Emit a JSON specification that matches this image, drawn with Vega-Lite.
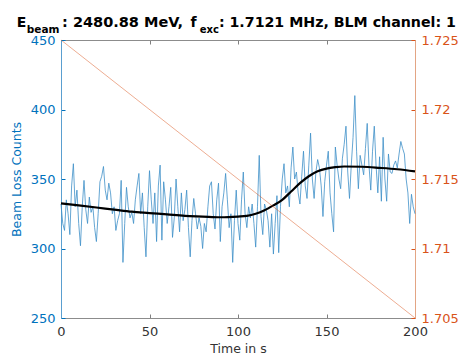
{
  "$schema": "https://vega.github.io/schema/vega-lite/v6.json",
  "width": 354,
  "height": 278,
  "autosize": {"type": "none"},
  "padding": {"left": 61, "top": 40, "right": 45, "bottom": 43},
  "background": "white",
  "config": {
    "view": {"stroke": null},
    "font": "DejaVu Sans",
    "axis": {"grid": false, "labelFont": "DejaVu Sans", "titleFont": "DejaVu Sans"}
  },
  "datasets": {
    "blm": [
      {"t":0,"counts":332},{"t":1,"counts":318},{"t":2,"counts":313},{"t":3,"counts":335},{"t":4,"counts":325},
      {"t":5,"counts":310},{"t":6,"counts":345},{"t":7,"counts":361},{"t":8,"counts":330},{"t":9,"counts":342},
      {"t":10,"counts":318},{"t":11,"counts":302},{"t":12,"counts":330},{"t":13,"counts":349},{"t":14,"counts":328},
      {"t":15,"counts":318},{"t":16,"counts":337},{"t":17,"counts":326},{"t":18,"counts":330},{"t":19,"counts":315},
      {"t":20,"counts":305},{"t":21,"counts":325},{"t":22,"counts":348},{"t":23,"counts":352},{"t":24,"counts":359},
      {"t":25,"counts":342},{"t":26,"counts":335},{"t":27,"counts":347},{"t":28,"counts":340},{"t":29,"counts":325},
      {"t":30,"counts":330},{"t":31,"counts":313},{"t":32,"counts":320},{"t":33,"counts":325},{"t":34,"counts":349},
      {"t":35,"counts":290},{"t":36,"counts":318},{"t":37,"counts":344},{"t":38,"counts":330},{"t":39,"counts":322},
      {"t":40,"counts":326},{"t":41,"counts":318},{"t":42,"counts":335},{"t":43,"counts":345},{"t":44,"counts":354},
      {"t":45,"counts":325},{"t":46,"counts":340},{"t":47,"counts":315},{"t":48,"counts":294},{"t":49,"counts":330},
      {"t":50,"counts":356},{"t":51,"counts":335},{"t":52,"counts":318},{"t":53,"counts":340},{"t":54,"counts":305},
      {"t":55,"counts":345},{"t":56,"counts":360},{"t":57,"counts":306},{"t":58,"counts":348},{"t":59,"counts":335},
      {"t":60,"counts":318},{"t":61,"counts":330},{"t":62,"counts":344},{"t":63,"counts":308},{"t":64,"counts":322},
      {"t":65,"counts":350},{"t":66,"counts":330},{"t":67,"counts":312},{"t":68,"counts":340},{"t":69,"counts":320},
      {"t":70,"counts":328},{"t":71,"counts":342},{"t":72,"counts":315},{"t":73,"counts":294},{"t":74,"counts":320},
      {"t":75,"counts":336},{"t":76,"counts":325},{"t":77,"counts":314},{"t":78,"counts":322},{"t":79,"counts":316},
      {"t":80,"counts":300},{"t":81,"counts":318},{"t":82,"counts":312},{"t":83,"counts":330},{"t":84,"counts":345},
      {"t":85,"counts":348},{"t":86,"counts":325},{"t":87,"counts":314},{"t":88,"counts":335},{"t":89,"counts":347},
      {"t":90,"counts":305},{"t":91,"counts":330},{"t":92,"counts":340},{"t":93,"counts":354},{"t":94,"counts":335},
      {"t":95,"counts":315},{"t":96,"counts":325},{"t":97,"counts":290},{"t":98,"counts":320},{"t":99,"counts":342},
      {"t":100,"counts":318},{"t":101,"counts":306},{"t":102,"counts":335},{"t":103,"counts":355},{"t":104,"counts":325},
      {"t":105,"counts":315},{"t":106,"counts":330},{"t":107,"counts":322},{"t":108,"counts":332},{"t":109,"counts":318},
      {"t":110,"counts":301},{"t":111,"counts":330},{"t":112,"counts":367},{"t":113,"counts":323},{"t":114,"counts":310},
      {"t":115,"counts":332},{"t":116,"counts":328},{"t":117,"counts":320},{"t":118,"counts":301},{"t":119,"counts":325},
      {"t":120,"counts":296},{"t":121,"counts":318},{"t":122,"counts":338},{"t":123,"counts":297},{"t":124,"counts":330},
      {"t":125,"counts":350},{"t":126,"counts":361},{"t":127,"counts":340},{"t":128,"counts":345},{"t":129,"counts":330},
      {"t":130,"counts":358},{"t":131,"counts":373},{"t":132,"counts":350},{"t":133,"counts":355},{"t":134,"counts":340},
      {"t":135,"counts":332},{"t":136,"counts":352},{"t":137,"counts":370},{"t":138,"counts":345},{"t":139,"counts":336},
      {"t":140,"counts":360},{"t":141,"counts":383},{"t":142,"counts":350},{"t":143,"counts":336},{"t":144,"counts":355},
      {"t":145,"counts":364},{"t":146,"counts":358},{"t":147,"counts":345},{"t":148,"counts":323},{"t":149,"counts":348},
      {"t":150,"counts":360},{"t":151,"counts":370},{"t":152,"counts":340},{"t":153,"counts":325},{"t":154,"counts":312},
      {"t":155,"counts":373},{"t":156,"counts":360},{"t":157,"counts":350},{"t":158,"counts":343},{"t":159,"counts":365},
      {"t":160,"counts":375},{"t":161,"counts":388},{"t":162,"counts":355},{"t":163,"counts":336},{"t":164,"counts":360},
      {"t":165,"counts":380},{"t":166,"counts":410},{"t":167,"counts":370},{"t":168,"counts":343},{"t":169,"counts":367},
      {"t":170,"counts":360},{"t":171,"counts":353},{"t":172,"counts":372},{"t":173,"counts":390},{"t":174,"counts":360},
      {"t":175,"counts":342},{"t":176,"counts":370},{"t":177,"counts":388},{"t":178,"counts":360},{"t":179,"counts":340},
      {"t":180,"counts":366},{"t":181,"counts":334},{"t":182,"counts":380},{"t":183,"counts":350},{"t":184,"counts":334},
      {"t":185,"counts":368},{"t":186,"counts":355},{"t":187,"counts":354},{"t":188,"counts":360},{"t":189,"counts":363},
      {"t":190,"counts":358},{"t":191,"counts":368},{"t":192,"counts":377},{"t":193,"counts":372},{"t":194,"counts":368},
      {"t":195,"counts":350},{"t":196,"counts":340},{"t":197,"counts":318},{"t":198,"counts":339},{"t":199,"counts":330},
      {"t":200,"counts":325}
    ],
    "fit": [
      {"t":0,"fit":332.5},{"t":10,"fit":331},{"t":20,"fit":329.5},{"t":30,"fit":328},{"t":40,"fit":326.5},
      {"t":50,"fit":325.5},{"t":60,"fit":324.5},{"t":70,"fit":323.5},{"t":80,"fit":323},{"t":90,"fit":322.5},
      {"t":100,"fit":323},{"t":105,"fit":323.5},{"t":110,"fit":325},{"t":115,"fit":327.5},{"t":120,"fit":331},
      {"t":125,"fit":335},{"t":130,"fit":341},{"t":135,"fit":347},{"t":140,"fit":352},{"t":145,"fit":355.5},
      {"t":150,"fit":357.5},{"t":155,"fit":358.5},{"t":160,"fit":359},{"t":170,"fit":358.8},{"t":180,"fit":358},
      {"t":190,"fit":357},{"t":200,"fit":355.5}
    ],
    "freq": [{"t":0,"f":1.725},{"t":200,"f":1.705}]
  },
  "layer": [
    {
      "layer": [
        {
          "data": {"name": "blm"},
          "mark": {"type": "line", "stroke": "#3d8fc8", "strokeWidth": 0.8},
          "encoding": {
            "x": {
              "field": "t", "type": "quantitative",
              "scale": {"domain": [0, 200], "nice": false, "zero": false},
              "axis": {
                "orient": "bottom", "values": [0, 50, 100, 150, 200],
                "title": "Time in s", "titleFontSize": 12.5, "titleFontWeight": "normal",
                "titleColor": "#333333", "titlePadding": 4,
                "labelFontSize": 13, "labelColor": "#333333", "labelFlush": false, "labelOverlap": false,
                "tickSize": -4, "tickColor": "#808080", "domainColor": "#8c8c8c", "labelPadding": 11
              }
            },
            "y": {
              "field": "counts", "type": "quantitative",
              "scale": {"domain": [250, 450], "nice": false, "zero": false},
              "axis": {
                "orient": "left", "values": [250, 300, 350, 400, 450],
                "title": "Beam Loss Counts", "titleFontSize": 12.5, "titleFontWeight": "normal",
                "titleColor": "#0072BD", "titlePadding": 7,
                "labelFontSize": 13, "labelColor": "#0072BD", "labelFlush": false, "labelOverlap": false,
                "tickSize": -4, "tickColor": "#0072BD", "domainColor": "#5a9fd0", "labelPadding": 10
              }
            }
          }
        },
        {
          "data": {"name": "fit"},
          "mark": {"type": "line", "color": "black", "strokeWidth": 2.2, "interpolate": "monotone"},
          "encoding": {
            "x": {"field": "t", "type": "quantitative"},
            "y": {"field": "fit", "type": "quantitative"}
          }
        },
        {
          "data": {"values": [{"s": "E"}]},
          "mark": {"type": "text", "font": "DejaVu Sans", "fontWeight": "bold", "fontSize": 14, "align": "left", "baseline": "alphabetic", "color": "black"},
          "encoding": {"x": {"datum": -25, "type": "quantitative"}, "y": {"datum": 459.4, "type": "quantitative"}, "text": {"field": "s"}}
        },
        {
          "data": {"values": [{"s": "beam"}]},
          "mark": {"type": "text", "font": "DejaVu Sans", "fontWeight": "bold", "fontSize": 10.5, "align": "left", "baseline": "alphabetic", "color": "black"},
          "encoding": {"x": {"datum": -19.3, "type": "quantitative"}, "y": {"datum": 454.7, "type": "quantitative"}, "text": {"field": "s"}}
        },
        {
          "data": {"values": [{"s": ": 2480.88 MeV,"}]},
          "mark": {"type": "text", "font": "DejaVu Sans", "fontWeight": "bold", "fontSize": 14.5, "align": "left", "baseline": "alphabetic", "color": "black"},
          "encoding": {"x": {"datum": 0.6, "type": "quantitative"}, "y": {"datum": 459.4, "type": "quantitative"}, "text": {"field": "s"}}
        },
        {
          "data": {"values": [{"s": "f"}]},
          "mark": {"type": "text", "font": "DejaVu Sans", "fontWeight": "bold", "fontSize": 14, "align": "left", "baseline": "alphabetic", "color": "black"},
          "encoding": {"x": {"datum": 73.2, "type": "quantitative"}, "y": {"datum": 459.4, "type": "quantitative"}, "text": {"field": "s"}}
        },
        {
          "data": {"values": [{"s": "exc"}]},
          "mark": {"type": "text", "font": "DejaVu Sans", "fontWeight": "bold", "fontSize": 10, "align": "left", "baseline": "alphabetic", "color": "black"},
          "encoding": {"x": {"datum": 78.4, "type": "quantitative"}, "y": {"datum": 454.7, "type": "quantitative"}, "text": {"field": "s"}}
        },
        {
          "data": {"values": [{"s": ": 1.7121 MHz, BLM channel: 1"}]},
          "mark": {"type": "text", "font": "DejaVu Sans", "fontWeight": "bold", "fontSize": 14.2, "align": "left", "baseline": "alphabetic", "color": "black"},
          "encoding": {"x": {"datum": 89.2, "type": "quantitative"}, "y": {"datum": 459.4, "type": "quantitative"}, "text": {"field": "s"}}
        }
      ]
    },
    {
      "data": {"name": "freq"},
      "mark": {"type": "line", "stroke": "#D95319", "strokeOpacity": 0.6, "strokeWidth": 0.8},
      "encoding": {
        "x": {
          "field": "t", "type": "quantitative",
          "axis": {
            "orient": "top", "values": [0, 50, 100, 150, 200], "labels": false, "title": null,
            "tickSize": -4, "tickColor": "#808080", "domainColor": "#8c8c8c"
          }
        },
        "y": {
          "field": "f", "type": "quantitative",
          "scale": {"domain": [1.705, 1.725], "nice": false, "zero": false},
          "axis": {
            "orient": "right", "values": [1.705, 1.71, 1.715, 1.72, 1.725], "format": "~g",
            "title": null,
            "labelFontSize": 13, "labelColor": "#D95319", "labelFlush": false, "labelOverlap": false,
            "tickSize": -4, "tickColor": "#D95319", "domainColor": "#e3a584", "labelPadding": 10
          }
        }
      }
    }
  ],
  "resolve": {"scale": {"y": "independent"}, "axis": {"x": "independent", "y": "independent"}}
}
